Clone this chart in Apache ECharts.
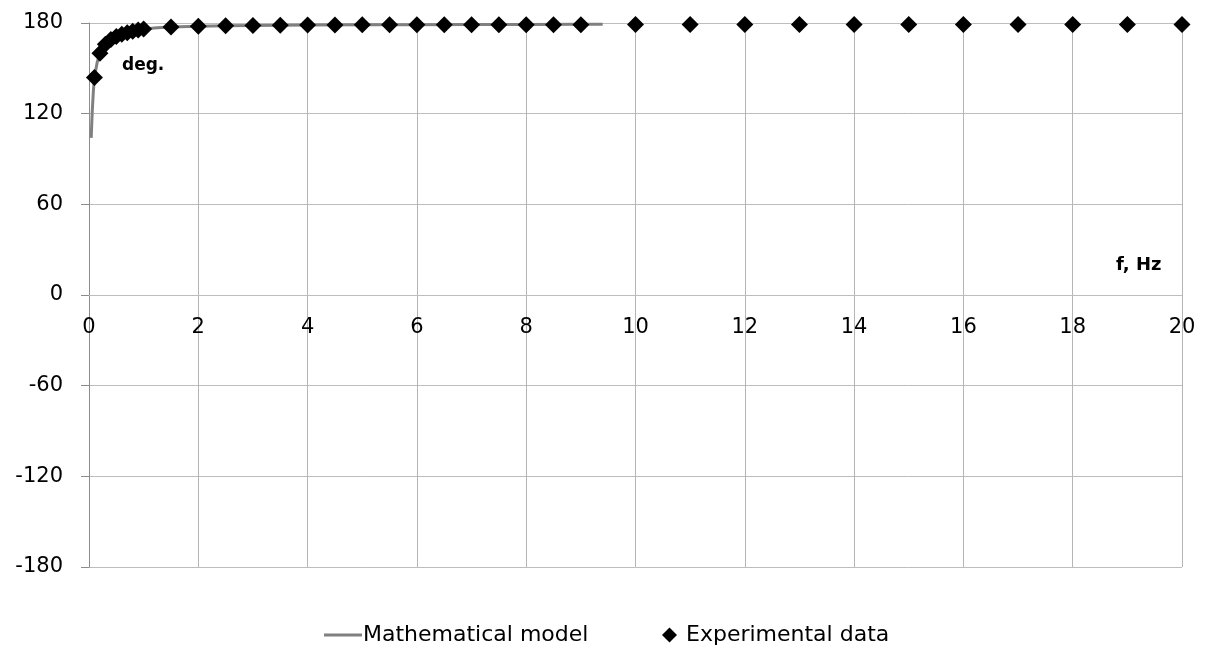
<!DOCTYPE html>
<html>
<head>
<meta charset="utf-8">
<script src="https://cdn.jsdelivr.net/npm/echarts@6/dist/echarts.min.js"></script>
<style>
html,body{margin:0;padding:0;background:#fff;}
#c{width:1211px;height:646px;}
</style>
</head>
<body>
<div id="c"></div>
<script>
// ---- data ----
var modelF   = [0.04, 0.06, 0.08, 0.1, 0.15, 0.2, 0.25, 0.3, 0.4, 0.5, 0.6, 0.7, 0.8, 0.9, 1.0, 1.25, 1.5, 2, 2.5, 3, 4, 5, 6, 7, 8, 9, 9.4];
var modelDeg = [104, 122, 135, 144, 154, 160, 163.5, 166, 169.3, 171.3, 172.8, 174, 174.9, 175.6, 176.1, 176.9, 177.4, 177.9, 178.2, 178.4, 178.7, 178.8, 178.9, 179, 179, 179.1, 179.1];

var expF   = [0.1, 0.2, 0.3, 0.4, 0.5, 0.6, 0.7, 0.8, 0.9, 1.0, 1.5, 2, 2.5, 3, 3.5, 4, 4.5, 5, 5.5, 6, 6.5, 7, 7.5, 8, 8.5, 9, 10, 11, 12, 13, 14, 15, 16, 17, 18, 19, 20];
var expDeg = [144, 160, 166, 169, 171, 172.5, 173.6, 174.5, 175.3, 176, 177.4, 177.8, 178.2, 178.4, 178.5, 178.6, 178.7, 178.8, 178.8, 178.8, 178.9, 178.9, 178.9, 178.9, 178.9, 178.9, 179, 179, 179, 179, 179, 179, 179, 179, 179, 179, 179];

var xTicks = {min: 0, max: 20, step: 2};
var yTicks = {min: -180, max: 180, step: 60};
var seriesNames = ['Mathematical model', 'Experimental data'];
var xName = 'f, Hz';
var yName = 'deg.';

// ---- build ----
var modelData = modelF.map(function (f, i) { return [f, modelDeg[i]]; });
var expData = expF.map(function (f, i) { return [f, expDeg[i]]; });

var chart = echarts.init(document.getElementById('c'));
var font = 'DejaVu Sans';
var gridTop = 23, gridBottom = 79, chartH = 646;
var plotH = chartH - gridTop - gridBottom;
// place the x axis at y = 0 (midpoint of the symmetric range)
var zeroOffset = -plotH * (0 - yTicks.min) / (yTicks.max - yTicks.min);
chart.setOption({
  animation: false,
  backgroundColor: '#ffffff',
  grid: {left: 89, right: 29, top: gridTop, bottom: gridBottom, containLabel: false},
  xAxis: {
    type: 'value',
    position: 'bottom',
    offset: zeroOffset,
    min: xTicks.min, max: xTicks.max, interval: xTicks.step,
    axisLine: {show: true, onZero: false, lineStyle: {color: '#bdbdbd', width: 1}},
    axisTick: {show: false},
    axisLabel: {color: '#000', fontFamily: font, fontSize: 21, margin: 22},
    splitLine: {show: true, lineStyle: {color: '#b5b5b5', width: 1}}
  },
  yAxis: {
    type: 'value',
    min: yTicks.min, max: yTicks.max, interval: yTicks.step,
    axisLine: {show: true, onZero: false, lineStyle: {color: '#8c8c8c', width: 1}},
    axisTick: {show: true, inside: false, length: 8, lineStyle: {color: '#8c8c8c'}},
    axisLabel: {color: '#000', fontFamily: font, fontSize: 21, margin: 26},
    splitLine: {show: true, lineStyle: {color: '#bdbdbd', width: 1}}
  },
  legend: [{
    left: 319, top: 619,
    data: [{name: seriesNames[0], icon: 'rect'}],
    itemWidth: 38, itemHeight: 3,
    textStyle: {color: '#000', fontFamily: font, fontSize: 22, padding: [0, 0, 0, -4]}
  }, {
    left: 657, top: 619,
    data: [{name: seriesNames[1], icon: 'diamond'}],
    itemWidth: 15, itemHeight: 15,
    textStyle: {color: '#000', fontFamily: font, fontSize: 22, padding: [0, 0, 0, 4]}
  }],
  graphic: [
    {type: 'text', left: 122, top: 57, style: {text: yName, fill: '#000', font: 'bold 17px "DejaVu Sans"'}},
    {type: 'text', left: 1116, top: 256, style: {text: xName, fill: '#000', font: 'bold 18px "DejaVu Sans"'}}
  ],
  series: [{
    name: seriesNames[0],
    type: 'line',
    data: modelData,
    showSymbol: false,
    smooth: false,
    lineStyle: {color: '#808080', width: 3},
    itemStyle: {color: '#808080'},
    z: 2
  }, {
    name: seriesNames[1],
    type: 'scatter',
    data: expData,
    symbol: 'diamond',
    symbolSize: 17,
    itemStyle: {color: '#000', opacity: 1},
    z: 3
  }]
});
</script>
</body>
</html>
